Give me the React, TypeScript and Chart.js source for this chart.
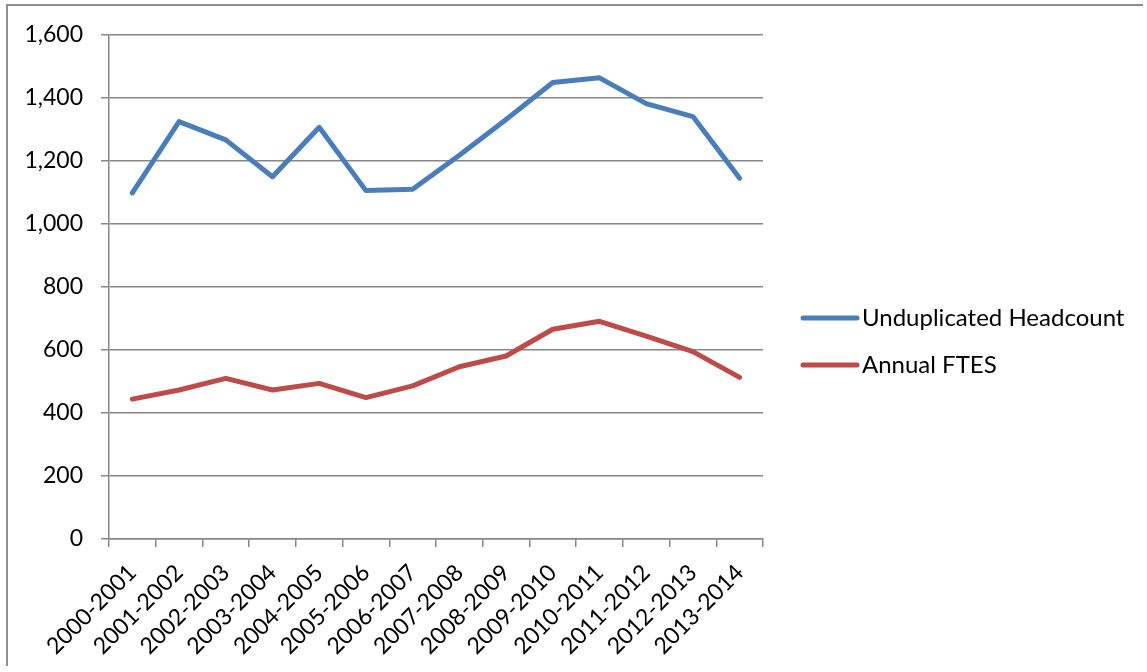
import React, { useEffect, useRef } from "react";
import { Chart, registerables } from "chart.js";

Chart.register(...registerables);

const categories = [
  "2000-2001", "2001-2002", "2002-2003", "2003-2004", "2004-2005",
  "2005-2006", "2006-2007", "2007-2008", "2008-2009", "2009-2010",
  "2010-2011", "2011-2012", "2012-2013", "2013-2014",
];
const headcount = [1099, 1325, 1267, 1150, 1307, 1106, 1110, 1218, 1332, 1449, 1464, 1382, 1341, 1145];
const ftes = [444, 473, 510, 473, 494, 449, 486, 547, 581, 666, 691, 644, 595, 513];
const seriesNames = ["Unduplicated Headcount", "Annual FTES"];
const yMin = 0;
const yMax = 1600;
const yStep = 200;

const FONT = "Lato";
const GRID = "#878787";

const legendPlugin = {
  id: "sideLegend",
  afterDraw(chart: any, _args: any, opts: any) {
    const ctx = chart.ctx;
    ctx.save();
    chart.data.datasets.forEach((ds: any, i: number) => {
      const y = opts.top + i * opts.gap;
      ctx.strokeStyle = ds.borderColor;
      ctx.lineWidth = 5;
      ctx.lineCap = "round";
      ctx.beginPath();
      ctx.moveTo(opts.left, y);
      ctx.lineTo(opts.left + opts.lineLen, y);
      ctx.stroke();
      ctx.fillStyle = "#000";
      ctx.font = `${opts.fontSize}px ${FONT}`;
      ctx.textBaseline = "middle";
      ctx.textAlign = "left";
      ctx.fillText(ds.label, opts.left + opts.lineLen + 5, y);
    });
    ctx.restore();
  },
};

export default function App() {
  const ref = useRef<HTMLCanvasElement>(null);
  useEffect(() => {
    if (!ref.current) return;
    const chart = new Chart(ref.current, {
      type: "line",
      data: {
        labels: categories,
        datasets: [
          {
            label: seriesNames[0],
            data: headcount,
            borderColor: "#4A7EBB",
            backgroundColor: "#4A7EBB",
            borderWidth: 5,
            pointRadius: 0,
            borderCapStyle: "round",
            borderJoinStyle: "round",
            tension: 0,
          },
          {
            label: seriesNames[1],
            data: ftes,
            borderColor: "#BE4B48",
            backgroundColor: "#BE4B48",
            borderWidth: 5,
            pointRadius: 0,
            borderCapStyle: "round",
            borderJoinStyle: "round",
            tension: 0,
          },
        ],
      },
      options: {
        animation: false,
        responsive: true,
        maintainAspectRatio: false,
        layout: { padding: { top: 35, right: 384, left: 0, bottom: 0 } },
        plugins: {
          legend: { display: false },
          tooltip: { enabled: false },
          sideLegend: { left: 803, top: 318, gap: 47, lineLen: 54, fontSize: 24 },
        } as any,
        scales: {
          x: {
            type: "category",
            offset: true,
            afterFit(scale: any) {
              scale.height = 133;
            },
            grid: {
              offset: true,
              drawOnChartArea: false,
              drawTicks: true,
              tickLength: 8,
              color: GRID,
              lineWidth: 1.5,
            },
            border: { color: GRID, width: 1.5 },
            ticks: {
              color: "#000",
              font: { family: FONT, size: 23 },
              minRotation: 45,
              maxRotation: 45,
              padding: 12,
              autoSkip: false,
            },
          },
          y: {
            min: yMin,
            max: yMax,
            afterFit(scale: any) {
              scale.width = 109;
            },
            grid: {
              color: GRID,
              lineWidth: 1.5,
              drawTicks: true,
              tickLength: 8,
            },
            border: { color: GRID, width: 1.5 },
            ticks: {
              stepSize: yStep,
              color: "#000",
              font: { family: FONT, size: 23 },
              padding: 18,
            },
          },
        },
      },
      plugins: [legendPlugin],
    });
    return () => chart.destroy();
  }, []);

  return (
    <>
      <div
        style={{
          position: "absolute",
          left: 6,
          top: 4,
          width: 1135,
          height: 660,
          borderTop: "2px solid #8f8f8f",
          borderLeft: "2px solid #8f8f8f",
        }}
      />
      <div style={{ position: "absolute", left: 0, top: 0, width: 1147, height: 672 }}>
        <canvas ref={ref} />
      </div>
    </>
  );
}
